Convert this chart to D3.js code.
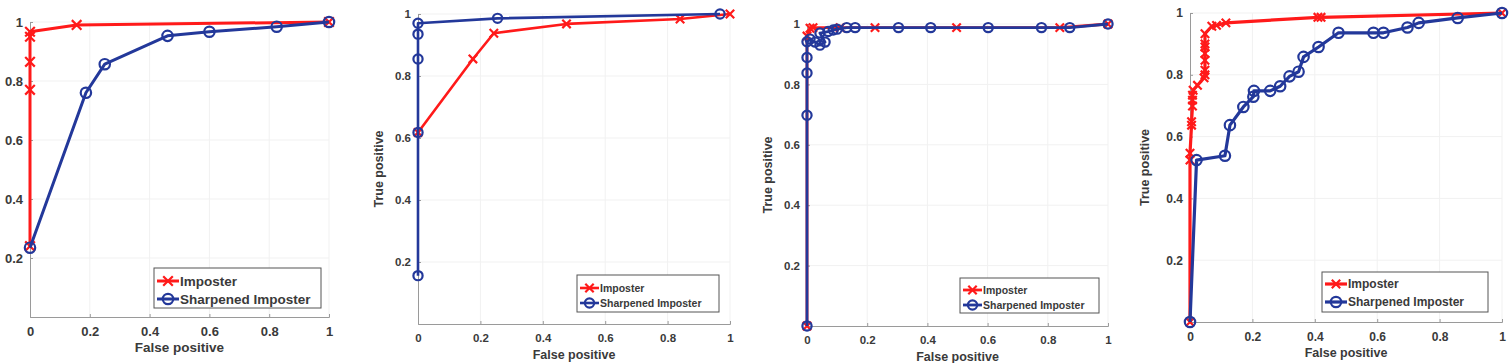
<!DOCTYPE html>
<html>
<head>
<meta charset="utf-8">
<script src="https://cdn.jsdelivr.net/npm/d3@7"></script>
<style>
  body { margin: 0; background: #fff; }
  svg { display: block; }
  text { font-family: "Liberation Sans", Arial, sans-serif; font-weight: bold; fill: #3a3a3a; }
</style>
</head>
<body>
<div id="chart"></div>
<script>

// ---- data (false positive, true positive) ----
var seriesNames = ["Imposter", "Sharpened Imposter"];
var xTicks = [0, 0.2, 0.4, 0.6, 0.8, 1];
var yTicks = [0.2, 0.4, 0.6, 0.8, 1];

var p1Imposter = [[0,0.24],[0,0.77],[0,0.865],[0,0.95],[0,0.967],[0.156,0.99],[1,1]];
var p1Sharp    = [[0,0.235],[0.187,0.76],[0.25,0.857],[0.46,0.953],[0.6,0.967],[0.825,0.984],[1,1]];

var p2Imposter = [[0,0.618],[0.176,0.855],[0.243,0.938],[0.476,0.968],[0.84,0.984],[1,1]];
var p2Sharp    = [[0,0.156],[0,0.618],[0,0.855],[0,0.935],[0,0.97],[0.255,0.986],[0.968,1]];

var p3Imposter = [[0,0],[0,0.96],[0.01,0.986],[0.02,0.988],[0.11,0.988],[0.226,0.988],[0.497,0.988],[0.84,0.988],[1,1]];
var p3Sharp    = [[0,0],[0,0.698],[0,0.838],[0,0.889],[0,0.941],[0.01,0.95],[0.027,0.94],[0.043,0.93],[0.06,0.94],
                  [0.043,0.97],[0.07,0.975],[0.087,0.98],[0.1,0.983],[0.132,0.988],[0.16,0.988],[0.304,0.988],
                  [0.411,0.988],[0.602,0.988],[0.779,0.988],[0.873,0.988],[1,1]];

var p4Imposter = [[0,0],[0,0.524],[0,0.546],[0.005,0.637],[0.005,0.648],[0.008,0.699],[0.008,0.718],[0.008,0.734],
                  [0.01,0.75],[0.024,0.766],[0.045,0.79],[0.048,0.8],[0.048,0.815],[0.048,0.847],[0.048,0.869],
                  [0.048,0.89],[0.048,0.9],[0.048,0.933],[0.07,0.957],[0.085,0.96],[0.115,0.968],[0.41,0.986],
                  [0.42,0.986],[1,1]];
var p4Sharp    = [[0,0],[0.021,0.524],[0.112,0.538],[0.128,0.637],[0.171,0.696],[0.203,0.729],[0.205,0.748],
                  [0.257,0.748],[0.289,0.763],[0.319,0.795],[0.348,0.81],[0.364,0.858],[0.412,0.89],[0.476,0.936],
                  [0.588,0.936],[0.62,0.936],[0.697,0.953],[0.733,0.968],[0.858,0.984],[1,1]];

var colors = ["#ff1a1a", "#23389a"];

// ---- panel layout ----
var panels = [
  { imp: p1Imposter, sharp: p1Sharp, x0: 30, x1: 329, yb: 317, yt: 22, tick: 13, title: 13.5,
    yLabelX: -5, lw: 3, r: 5.2, cs: 4.8,
    legend: { x: 154, y: 268, w: 167, h: 40, font: 13.5, row1: 281, row2: 299, sample: 22 } },
  { imp: p2Imposter, sharp: p2Sharp, x0: 418, x1: 730, yb: 324, yt: 14, tick: 11.5, title: 12.5,
    yLabelX: 383, lw: 2.6, r: 4.6, cs: 4.2,
    legend: { x: 577, y: 275, w: 142, h: 37, font: 10.5, row1: 288, row2: 303, sample: 19 } },
  { imp: p3Imposter, sharp: p3Sharp, x0: 807, x1: 1108, yb: 326, yt: 24, tick: 11.5, title: 12.5,
    yLabelX: 772, lw: 2.8, r: 4.6, cs: 4.2,
    legend: { x: 960, y: 278, w: 139, h: 35, font: 10.5, row1: 290, row2: 305, sample: 19 } },
  { imp: p4Imposter, sharp: p4Sharp, x0: 1190, x1: 1502, yb: 322, yt: 13, tick: 12, title: 12.5,
    yLabelX: 1149, lw: 3.2, r: 5.2, cs: 4.2,
    legend: { x: 1322, y: 272, w: 166, h: 40, font: 12, row1: 284, row2: 302, sample: 22 } }
];

var svg = d3.select("#chart")
  .append("svg")
    .attr("width", 1511)
    .attr("height", 363);

function crossPath(s) {
  return "M" + (-s) + "," + (-s) + "L" + s + "," + s + "M" + (-s) + "," + s + "L" + s + "," + (-s);
}

function drawMarkers(g, pts, kind, p, color) {
  if (kind === 0) {
    g.selectAll(null).data(pts).enter()
      .append("path")
      .attr("d", crossPath(p.cs))
      .attr("transform", function(d){ return "translate(" + d[0] + "," + d[1] + ")"; })
      .attr("stroke", color)
      .attr("stroke-width", 2.2)
      .attr("fill", "none");
  } else {
    g.selectAll(null).data(pts).enter()
      .append("circle")
      .attr("cx", function(d){ return d[0]; })
      .attr("cy", function(d){ return d[1]; })
      .attr("r", p.r)
      .attr("stroke", color)
      .attr("stroke-width", 2.2)
      .attr("fill", "none");
  }
}

panels.forEach(function (p) {

  var x = d3.scaleLinear().domain([0, 1]).range([p.x0, p.x1]);
  var y = d3.scaleLinear().domain([0, 1]).range([p.yb, p.yt]);

  var g = svg.append("g");

  // faint grid
  g.selectAll(".gx").data(xTicks.slice(1)).enter()
    .append("line")
    .attr("x1", function(d){ return x(d); }).attr("x2", function(d){ return x(d); })
    .attr("y1", p.yb).attr("y2", y(1))
    .attr("stroke", "#f1f1f1");
  g.selectAll(".gy").data(yTicks).enter()
    .append("line")
    .attr("x1", p.x0).attr("x2", p.x1)
    .attr("y1", function(d){ return y(d); }).attr("y2", function(d){ return y(d); })
    .attr("stroke", "#f1f1f1");

  // axes, ticks inward like matlab
  var xAxis = d3.axisBottom(x).tickValues(xTicks).tickSize(-3).tickPadding(10)
    .tickFormat(function(d){ return d === 0 ? "0" : (d === 1 ? "1" : d3.format(".1f")(d)); });
  var yAxis = d3.axisLeft(y).tickValues(yTicks).tickSize(-3).tickPadding(7)
    .tickFormat(function(d){ return d === 1 ? "1" : d3.format(".1f")(d); });

  var gx = g.append("g").attr("transform", "translate(0," + p.yb + ")").call(xAxis);
  var gy = g.append("g").attr("transform", "translate(" + p.x0 + ",0)").call(yAxis);
  [gx, gy].forEach(function (a) {
    a.select(".domain").attr("stroke", "#9a9a9a").attr("stroke-width", 1);
    a.selectAll(".tick line").attr("stroke", "#9a9a9a");
    a.selectAll(".tick text").style("font-size", p.tick + "px").attr("fill", "#3a3a3a");
  });

  // axis titles
  g.append("text")
    .attr("x", (p.x0 + p.x1) / 2)
    .attr("y", p.yb + 35)
    .attr("text-anchor", "middle")
    .style("font-size", p.title + "px")
    .text("False positive");
  g.append("text")
    .attr("transform", "translate(" + p.yLabelX + "," + (p.yb + p.yt) / 2 + ") rotate(-90)")
    .attr("text-anchor", "middle")
    .style("font-size", p.title + "px")
    .text("True positive");

  var line = d3.line()
    .x(function(d){ return x(d[0]); })
    .y(function(d){ return y(d[1]); });

  [p.imp, p.sharp].forEach(function (data, i) {
    g.append("path")
      .datum(data)
      .attr("d", line)
      .attr("fill", "none")
      .attr("stroke", colors[i])
      .attr("stroke-width", p.lw)
      .attr("stroke-linejoin", "round");
    drawMarkers(g, data.map(function(d){ return [x(d[0]), y(d[1])]; }), i, p, colors[i]);
  });

  // legend
  var L = p.legend;
  g.append("rect")
    .attr("x", L.x).attr("y", L.y)
    .attr("width", L.w).attr("height", L.h)
    .attr("fill", "#fff")
    .attr("stroke", "#555")
    .attr("stroke-width", 1);
  [L.row1, L.row2].forEach(function (ry, i) {
    var sx = L.x + 3;
    g.append("line")
      .attr("x1", sx).attr("x2", sx + L.sample)
      .attr("y1", ry).attr("y2", ry)
      .attr("stroke", colors[i])
      .attr("stroke-width", p.lw);
    drawMarkers(g, [[sx + L.sample / 2, ry]], i, p, colors[i]);
    g.append("text")
      .attr("x", sx + L.sample + 1)
      .attr("y", ry)
      .attr("dy", "0.35em")
      .style("font-size", L.font + "px")
      .text(seriesNames[i]);
  });
});

</script>
</body>
</html>
